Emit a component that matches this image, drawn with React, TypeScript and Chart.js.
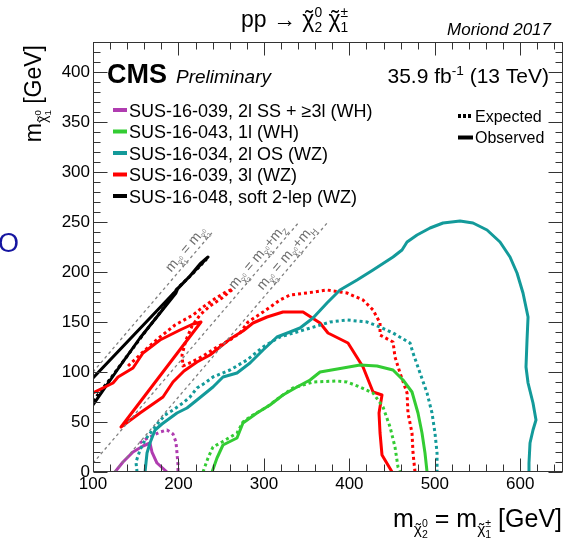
import React, { useEffect, useRef } from 'react';
import { Chart, registerables } from 'chart.js';

Chart.register(...registerables);

const FONT = "'Liberation Sans', Arial, Helvetica, sans-serif";

// axis
const X_MIN = 100;
const X_MAX = 650;
const Y_MIN = 0;
const Y_MAX = 430;
const X_TICKS = [100, 200, 300, 400, 500, 600];
const Y_TICKS = [0, 50, 100, 150, 200, 250, 300, 350, 400];

// colours
const PURPLE = '#b03cb0';
const GREEN = '#33cc33';
const TEAL = '#139a9a';
const RED = '#ff0000';
const BLACK = '#000000';

// legend
const LEGEND_LABELS = [
  'SUS-16-039, 2l SS + \u22653l (WH)',
  'SUS-16-043, 1l (WH)',
  'SUS-16-034, 2l OS (WZ)',
  'SUS-16-039, 3l (WZ)',
  'SUS-16-048, soft 2-lep (WZ)',
];
const LEGEND_COLORS = [PURPLE, GREEN, TEAL, RED, BLACK];
const STYLE_LABELS = ['Expected', 'Observed'];

// kinematic lines: m(chi1) = m(chi2) - delta
const DIAG_DELTA = [0, 91.2, 125];
const DIAG_X_START = [100, 100, 125];
const DIAG_X_END = [240, 341, 375];
const DIAG_LABEL_X = [196, 270, 303];

// contours [m(chi2), m(chi1)]
const PURPLE_OBS = [[125.7, 0], [135.1, 10], [146.8, 20], [158.5, 26], [166.7, 29], [169, 20], [174.9, 9], [186.6, 0]];
const PURPLE_EXP = [[155, 29], [162, 33], [169, 36], [178.4, 40], [186.6, 42], [193.6, 38], [197.1, 30], [198.3, 19], [199.5, 7], [199.5, 0]];

const GREEN_OBS = [[239.3, 0], [245.1, 14], [252.1, 27], [268.5, 34], [275.5, 49], [291.9, 59], [307.1, 67], [322.3, 77], [338.7, 85], [354, 92], [365.7, 100], [392.6, 104], [412.5, 107], [432.4, 106], [451.1, 102], [462.8, 92], [473.3, 80], [480.3, 59], [485, 39], [488.5, 19], [490.9, 0]];
const GREEN_EXP = [[228.7, 0], [234.6, 14], [240.4, 25], [251, 30], [268.5, 39], [275.5, 50], [287.2, 57], [303.6, 65], [318.8, 75], [334, 84], [357.5, 90], [385.5, 91], [397.2, 90], [412.5, 85], [427.7, 79], [439.4, 65], [447.6, 45], [453.4, 25], [456.9, 5], [459.3, 0]];

const TEAL_OBS = [[160.9, 0], [163.2, 19], [166.7, 29], [172.6, 42], [180.7, 48], [198.3, 59], [210, 64], [221.7, 72], [240.4, 85], [252.1, 95], [268.5, 99], [283.7, 109], [299, 122], [315.3, 135], [330.5, 140], [342.2, 144], [357.5, 154], [373.8, 169], [389, 182], [409, 192], [427.7, 202], [451.1, 215], [461.6, 222], [467.5, 230], [479.2, 237], [494.4, 244], [509.6, 249], [529.5, 251], [544.7, 249], [561.1, 242], [576.3, 230], [588, 215], [596.2, 199], [603.2, 179], [609.1, 155], [607.9, 132], [606.7, 105], [609.1, 89], [614.9, 69], [618.4, 52], [614.9, 42], [611.4, 29], [610.2, 9], [610.2, 0]];
const TEAL_EXP = [[151.5, 0], [150.3, 10], [155, 22], [160.9, 32], [167.9, 40], [176.1, 49], [184.3, 57], [193.6, 62], [205.3, 69], [213.5, 75], [221.7, 84], [231.1, 89], [240.4, 95], [260.3, 102], [280.2, 112], [299, 125], [318.8, 135], [338.7, 140], [362.1, 146], [377.4, 150], [397.2, 152], [420.6, 150], [435.9, 145], [451.1, 139], [471, 129], [474.5, 119], [482.7, 99], [490.9, 79], [496.7, 59], [500.2, 39], [502.6, 19], [502.6, 0]];

const RED_OBS = [[100, 79], [123.4, 89], [129.3, 95], [146.8, 104], [158.5, 119], [178.4, 132], [201.8, 142], [217, 148], [226.4, 150], [132.8, 45], [155, 59], [181.9, 75], [193.6, 90], [206.5, 101], [221.7, 110], [236.9, 117], [248.6, 125], [260.3, 133], [275.5, 141], [287.2, 149], [303.6, 155], [322.3, 160], [345.8, 160], [365.7, 149], [375, 139], [398.4, 129], [416, 105], [427.7, 80], [438.2, 77], [434.7, 59], [435.9, 39], [438.2, 17], [450, 0]];
const RED_EXP = [[141, 106], [160.9, 122], [178.4, 135], [196, 147], [217, 157], [228.7, 165], [243.9, 174], [255.6, 180], [263.8, 183], [251, 174], [237, 166], [225.2, 157], [215.9, 146], [208.8, 132], [204.2, 117], [205.3, 106], [215.9, 110], [228.7, 116], [245.1, 125], [260.3, 132], [272, 139], [281.4, 150], [299, 160], [318.8, 172], [330.5, 177], [350.4, 179], [373.8, 182], [397.2, 179], [416, 172], [427.7, 162], [435.9, 149], [435.9, 137], [451.1, 130], [453.4, 115], [459.3, 99], [467.5, 79], [468.6, 59], [473.3, 39], [474.5, 19], [476.8, 0]];

const BLACK_OBS = [[100, 94], [234.6, 215], [225.2, 208], [213.5, 196], [199.5, 184], [197.1, 179], [178.4, 159], [155, 134], [131.6, 106], [100, 67]];
const BLACK_EXP = [[100, 71], [120, 93], [140, 116], [160, 139], [180, 161], [198, 183], [215, 197], [233, 213]];

type Seg = { t: string; s?: number; dy?: number; na?: boolean; tl?: boolean };

function richWidth(ctx: CanvasRenderingContext2D, segs: Seg[], size: number, style: string) {
  let w = 0;
  let pend = 0;
  for (const g of segs) {
    ctx.font = `${style} ${size * (g.s ?? 1)}px ${FONT}`;
    const gw = ctx.measureText(g.t).width;
    if (g.na) { pend = gw; continue; }
    w += Math.max(gw, pend);
    pend = 0;
  }
  return w;
}

function drawRich(ctx: CanvasRenderingContext2D, segs: Seg[], x: number, y: number, size: number, style: string, color: string, align: 'left' | 'right' | 'center') {
  const W = richWidth(ctx, segs, size, style);
  let cx = align === 'right' ? x - W : align === 'center' ? x - W / 2 : x;
  ctx.fillStyle = color;
  ctx.textBaseline = 'alphabetic';
  let pend = 0;
  for (const g of segs) {
    const fs = size * (g.s ?? 1);
    const by = y + (g.dy ?? 0) * size;
    ctx.font = `${style} ${fs}px ${FONT}`;
    ctx.textAlign = 'left';
    ctx.fillText(g.t, cx, by);
    const gw = ctx.measureText(g.t).width;
    if (g.tl) {
      ctx.textAlign = 'center';
      ctx.fillText('\u02dc', cx + gw * 0.55, by + fs * 0.02);
      ctx.textAlign = 'left';
    }
    if (g.na) { pend = gw; continue; }
    cx += Math.max(gw, pend);
    pend = 0;
  }
}

const CHI = '\u03c7';
const subChi = (sup: string, sub: string): Seg[] => [
  { t: CHI, s: 0.62, dy: 0.28, tl: true },
  { t: sup, s: 0.42, dy: 0.0, na: true },
  { t: sub, s: 0.42, dy: 0.45 },
];

const TITLE_SEGS: Seg[] = [
  { t: 'pp \u2192 ' },
  { t: CHI, tl: true },
  { t: '0', s: 0.6, dy: -0.42, na: true },
  { t: '2', s: 0.6, dy: 0.2 },
  { t: ' ' },
  { t: CHI, tl: true },
  { t: '\u00b1', s: 0.6, dy: -0.42, na: true },
  { t: '1', s: 0.6, dy: 0.2 },
];
const XTITLE_SEGS: Seg[] = [{ t: 'm' }, ...subChi('0', '2'), { t: ' = m' }, ...subChi('\u00b1', '1'), { t: ' [GeV]' }];
const YTITLE_SEGS: Seg[] = [{ t: 'm' }, ...subChi('0', '1'), { t: ' [GeV]' }];
const LUMI_SEGS: Seg[] = [{ t: '35.9 fb' }, { t: '-1', s: 0.65, dy: -0.4 }, { t: ' (13 TeV)' }];
const DIAG_LABELS: Seg[][] = [
  [{ t: 'm' }, ...subChi('0', '1'), { t: ' = m' }, ...subChi('0', '2')],
  [{ t: 'm' }, ...subChi('0', '2'), { t: ' = m' }, ...subChi('0', '1'), { t: '+m' }, { t: 'Z', s: 0.62, dy: 0.28 }],
  [{ t: 'm' }, ...subChi('0', '2'), { t: ' = m' }, ...subChi('0', '1'), { t: '+m' }, { t: 'H', s: 0.62, dy: 0.28 }],
];

const toPts = (arr: number[][]) => arr.map(([x, y]) => ({ x, y }));

const line = (arr: number[][], color: string, dashed: boolean, width = 3) => ({
  data: toPts(arr),
  showLine: true,
  borderColor: color,
  backgroundColor: color,
  borderWidth: width,
  borderDash: dashed ? [3, 3] : [],
  borderCapStyle: 'butt' as const,
  borderJoinStyle: 'round' as const,
  pointRadius: 0,
  pointHoverRadius: 0,
  fill: false,
  tension: 0,
});

const overlayPlugin = {
  id: 'overlay',
  afterDraw(chart: any) {
    const { ctx, chartArea: a, scales } = chart;
    const xs = scales.x;
    const ys = scales.y;
    ctx.save();

    // frame
    ctx.strokeStyle = '#333';
    ctx.lineWidth = 1;
    ctx.setLineDash([]);
    const L = Math.round(a.left) + 0.5;
    const R = Math.round(a.right) - 0.5;
    const T = Math.round(a.top) + 0.5;
    const B = Math.round(a.bottom) - 0.5;
    ctx.strokeRect(L, T, R - L, B - T);

    // inner ticks
    ctx.beginPath();
    for (let v = X_MIN; v <= X_MAX; v += 20) {
      const px = Math.round(xs.getPixelForValue(v)) + 0.5;
      const len = v % 100 === 0 ? 13 : 7;
      ctx.moveTo(px, B); ctx.lineTo(px, B - len);
      ctx.moveTo(px, T); ctx.lineTo(px, T + len);
    }
    for (let v = Y_MIN; v <= Y_MAX; v += 10) {
      const py = Math.round(ys.getPixelForValue(v)) + 0.5;
      const len = v % 50 === 0 ? 14 : 7;
      ctx.moveTo(L, py); ctx.lineTo(L + len, py);
      ctx.moveTo(R, py); ctx.lineTo(R - len, py);
    }
    ctx.stroke();

    // diagonal labels
    const p0x = xs.getPixelForValue(100), p0y = ys.getPixelForValue(100);
    const p1x = xs.getPixelForValue(200), p1y = ys.getPixelForValue(200);
    const ang = Math.atan2(p1y - p0y, p1x - p0x);
    const nx = Math.sin(ang), ny = -Math.cos(ang);
    DIAG_LABELS.forEach((segs, i) => {
      const dx = DIAG_LABEL_X[i];
      const px = xs.getPixelForValue(dx);
      const py = ys.getPixelForValue(dx - DIAG_DELTA[i]);
      const off = 5;
      ctx.save();
      ctx.translate(px + off * nx, py + off * ny);
      ctx.rotate(ang);
      drawRich(ctx, segs, 0, 0, 14, '', '#6e6e6e', 'left');
      ctx.restore();
    });

    // CMS labels
    ctx.font = `bold 27px ${FONT}`;
    ctx.fillStyle = '#000';
    ctx.textAlign = 'left';
    ctx.textBaseline = 'alphabetic';
    ctx.fillText('CMS', 107, 83);
    ctx.font = `italic 19px ${FONT}`;
    ctx.fillText('Preliminary', 176, 83);
    drawRich(ctx, LUMI_SEGS, 549, 83, 21, '', '#000', 'right');

    // title
    drawRich(ctx, TITLE_SEGS, 241, 27, 23, '', '#000', 'left');
    ctx.font = `italic 17px ${FONT}`;
    ctx.fillStyle = '#000';
    ctx.textAlign = 'right';
    ctx.fillText('Moriond 2017', 551, 35);

    // axis titles
    drawRich(ctx, XTITLE_SEGS, 562, 527, 25, '', '#000', 'right');
    ctx.save();
    ctx.translate(41, 45);
    ctx.rotate(-Math.PI / 2);
    drawRich(ctx, YTITLE_SEGS, 0, 0, 23, '', '#000', 'right');
    ctx.restore();

    // legend
    LEGEND_LABELS.forEach((lab, i) => {
      const cy = 110 + i * 21.5;
      ctx.strokeStyle = LEGEND_COLORS[i];
      ctx.lineWidth = 4;
      ctx.setLineDash([]);
      ctx.beginPath();
      ctx.moveTo(113, cy); ctx.lineTo(127, cy);
      ctx.stroke();
      ctx.font = `18px ${FONT}`;
      ctx.fillStyle = '#000';
      ctx.textAlign = 'left';
      ctx.fillText(lab, 129, cy + 6.7);
    });
    STYLE_LABELS.forEach((lab, i) => {
      const cy = 116 + i * 21.5;
      ctx.strokeStyle = '#000';
      ctx.lineWidth = 4;
      ctx.setLineDash(i === 0 ? [3, 2] : []);
      ctx.beginPath();
      ctx.moveTo(458, cy); ctx.lineTo(473, cy);
      ctx.stroke();
      ctx.setLineDash([]);
      ctx.font = `16px ${FONT}`;
      ctx.fillStyle = '#000';
      ctx.textAlign = 'left';
      ctx.fillText(lab, 475, cy + 5.8);
    });

    // stray slide glyph at left edge
    ctx.font = `27px ${FONT}`;
    ctx.fillStyle = '#1515a0';
    ctx.textAlign = 'left';
    ctx.fillText('O', -2, 252);

    ctx.restore();
  },
};

export default function App() {
  const ref = useRef<HTMLCanvasElement | null>(null);

  useEffect(() => {
    if (!ref.current) return;
    const diag = DIAG_DELTA.map((d, i) =>
      line([[DIAG_X_START[i], DIAG_X_START[i] - d], [DIAG_X_END[i], DIAG_X_END[i] - d]], '#808080', true, 1.3)
    );
    const chart = new Chart(ref.current, {
      type: 'scatter',
      data: {
        datasets: [
          ...diag,
          line(TEAL_EXP, TEAL, true),
          line(TEAL_OBS, TEAL, false),
          line(GREEN_EXP, GREEN, true),
          line(GREEN_OBS, GREEN, false),
          line(RED_EXP, RED, true),
          line(RED_OBS, RED, false),
          line(PURPLE_EXP, PURPLE, true),
          line(PURPLE_OBS, PURPLE, false),
          line(BLACK_EXP, BLACK, true),
          line(BLACK_OBS, BLACK, false),
        ] as any,
      },
      options: {
        responsive: false,
        animation: false,
        events: [],
        layout: { padding: { left: 8, top: 42, right: 3, bottom: 38 } },
        plugins: { legend: { display: false }, tooltip: { enabled: false } },
        scales: {
          x: {
            type: 'linear',
            min: X_MIN,
            max: X_MAX,
            afterBuildTicks: (s: any) => { s.ticks = X_TICKS.map((v) => ({ value: v })); },
            afterFit: (s: any) => { s.height = 30; },
            grid: { display: false, drawTicks: false },
            border: { display: false },
            ticks: { font: { family: FONT, size: 17 }, color: '#000', padding: 2, maxRotation: 0, autoSkip: false },
          },
          y: {
            type: 'linear',
            min: Y_MIN,
            max: Y_MAX,
            afterBuildTicks: (s: any) => { s.ticks = Y_TICKS.map((v) => ({ value: v })); },
            afterFit: (s: any) => { s.width = 85; },
            grid: { display: false, drawTicks: false },
            border: { display: false },
            ticks: { font: { family: FONT, size: 17 }, color: '#000', padding: 3, autoSkip: false },
          },
        },
      },
      plugins: [overlayPlugin],
    });
    return () => chart.destroy();
  }, []);

  return (
    <div style={{ position: 'absolute', left: 0, top: 0, width: 566, height: 540, background: '#fff', overflow: 'hidden' }}>
      <canvas ref={ref} width={566} height={540} style={{ display: 'block' }} />
    </div>
  );
}
